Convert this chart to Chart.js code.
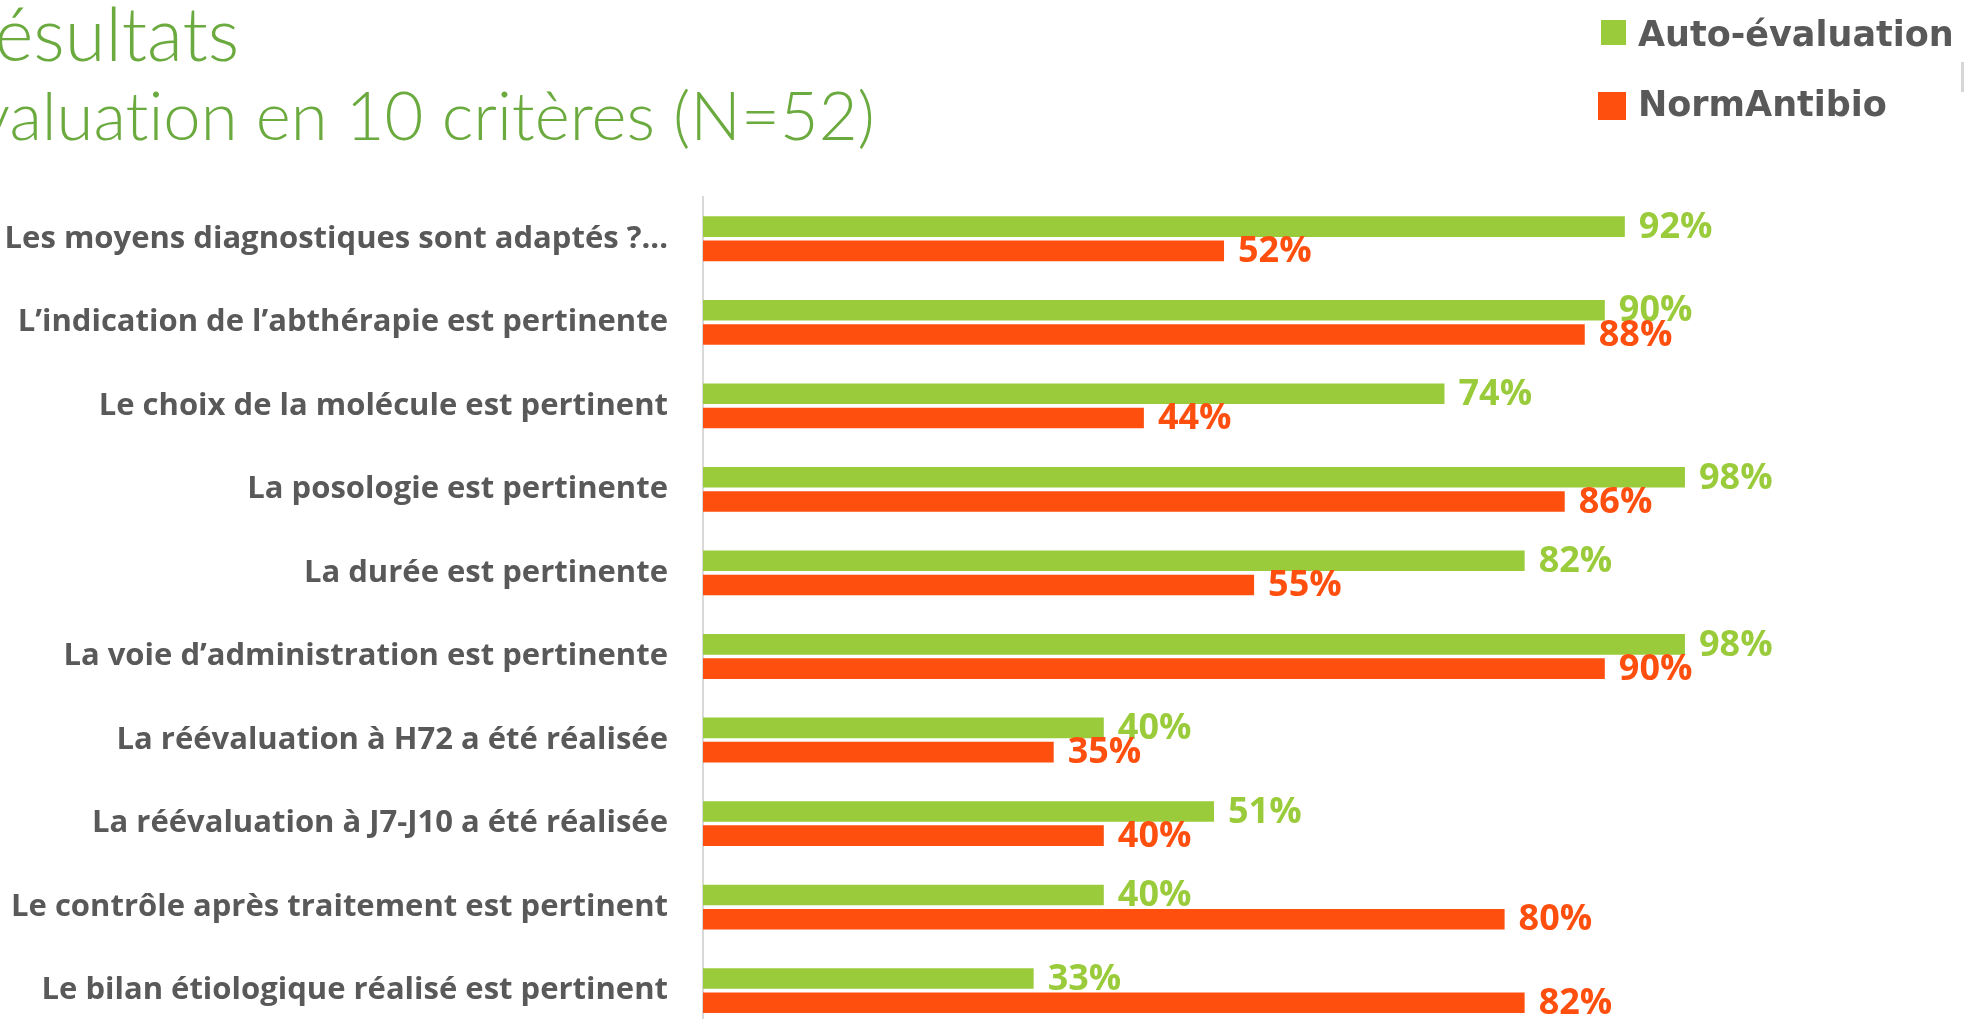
<!DOCTYPE html>
<html lang="fr">
<head>
<meta charset="UTF-8">
<title>Résultats – Évaluation en 10 critères</title>
<script src="https://cdn.jsdelivr.net/npm/chart.js"></script>
<style>
  html, body { margin: 0; padding: 0; background: #fff; }
  #wrap { position: relative; width: 1964px; height: 1019px; overflow: hidden; }
  #chart { position: absolute; left: 0; top: 0; width: 1964px; height: 1086px; }
  .title {
    position: absolute; white-space: nowrap; color: #6BAA3E;
    font-family: Lato, "Open Sans", sans-serif; font-weight: 300;
    line-height: 1; font-variant-ligatures: none;
  }
  #title1 { font-size: 74px; top: -4px; }
  #title2 { font-size: 67px; top: 81px; }
  .leg-box { position: absolute; }
  .leg-text {
    position: absolute; white-space: nowrap; color: #595959;
    font-family: "DejaVu Sans", sans-serif; font-weight: bold;
    font-size: 35px; line-height: 1;
  }
</style>
</head>
<body>
<div id="wrap">
  <canvas id="chart" width="1964" height="1086"></canvas>
  <div class="title" id="title1">Résultats</div>
  <div class="title" id="title2">Évaluation en 10 critères (N=52)</div>
  <div class="leg-box" style="left:1601px; top:20px; width:25px; height:25px; background:#9ACB3B"></div>
  <div class="leg-text" style="left:1638px; top:17px">Auto-évaluation</div>
  <div class="leg-box" style="left:1598px; top:92px; width:28px; height:28px; background:#FF4F0F"></div>
  <div class="leg-text" style="left:1638px; top:87px">NormAntibio</div>
  <div class="leg-box" style="left:1961px; top:62px; width:3px; height:30px; background:#D6D6D6"></div>
</div>

<script>
  const categories = [
    'Les moyens diagnostiques sont adaptés ?...',
    'L\u2019indication de l\u2019abthérapie est pertinente',
    'Le choix de la molécule est pertinent',
    'La posologie est pertinente',
    'La durée est pertinente',
    'La voie d\u2019administration est pertinente',
    'La réévaluation à H72 a été réalisée',
    'La réévaluation à J7-J10 a été réalisée',
    'Le contrôle après traitement est pertinent',
    'Le bilan étiologique réalisé est pertinent'
  ];
  const autoEvaluation = [92, 90, 74, 98, 82, 98, 40, 51, 40, 33];
  const normAntibio = [52, 88, 44, 86, 55, 90, 35, 40, 80, 82];
  const seriesNames = ['Auto-évaluation', 'NormAntibio'];
  const seriesColors = ['#9ACB3B', '#FF4F0F'];

  // titles are cut at the left edge in the original slide
  function shiftTitle(id, prefix, extra) {
    const el = document.getElementById(id);
    const c = document.createElement('canvas').getContext('2d');
    const cs = getComputedStyle(el);
    c.font = cs.fontWeight + ' ' + cs.fontSize + ' ' + cs.fontFamily;
    el.style.left = -(c.measureText(prefix).width + extra) + 'px';
  }
  shiftTitle('title1', 'R', 3);
  shiftTitle('title2', 'Év', -10);

  // percentage labels at the end of each bar
  const valueLabels = {
    id: 'valueLabels',
    afterDatasetsDraw(chart) {
      const ctx = chart.ctx;
      ctx.save();
      ctx.font = 'bold 36px "Open Sans"';
      ctx.textAlign = 'left';
      ctx.textBaseline = 'middle';
      chart.data.datasets.forEach((ds, i) => {
        chart.getDatasetMeta(i).data.forEach((bar, j) => {
          ctx.fillStyle = ds.backgroundColor;
          ctx.fillText(ds.data[j] + '%', bar.x + 14, bar.y + 1);
        });
      });
      ctx.restore();
    }
  };

  new Chart(document.getElementById('chart'), {
    type: 'bar',
    data: {
      labels: categories,
      datasets: [
        { label: seriesNames[0], data: autoEvaluation, backgroundColor: seriesColors[0] },
        { label: seriesNames[1], data: normAntibio, backgroundColor: seriesColors[1] }
      ]
    },
    options: {
      indexAxis: 'y',
      responsive: false,
      maintainAspectRatio: false,
      animation: false,
      categoryPercentage: 0.58,
      barPercentage: 0.85,
      layout: { padding: { left: 0, right: 259, top: 197, bottom: 8 } },
      plugins: {
        legend: { display: false },
        tooltip: { enabled: false }
      },
      scales: {
        x: { display: false, min: 0, max: 100 },
        y: {
          grid: { display: false, drawTicks: false },
          border: { display: true, color: '#D9D9D9', width: 2 },
          ticks: {
            color: '#595959',
            padding: 35,
            font: { family: '"Open Sans"', weight: 'bold', size: 31 }
          },
          afterFit(scale) { scale.width = 703; }
        }
      }
    },
    plugins: [valueLabels]
  });
</script>
</body>
</html>
